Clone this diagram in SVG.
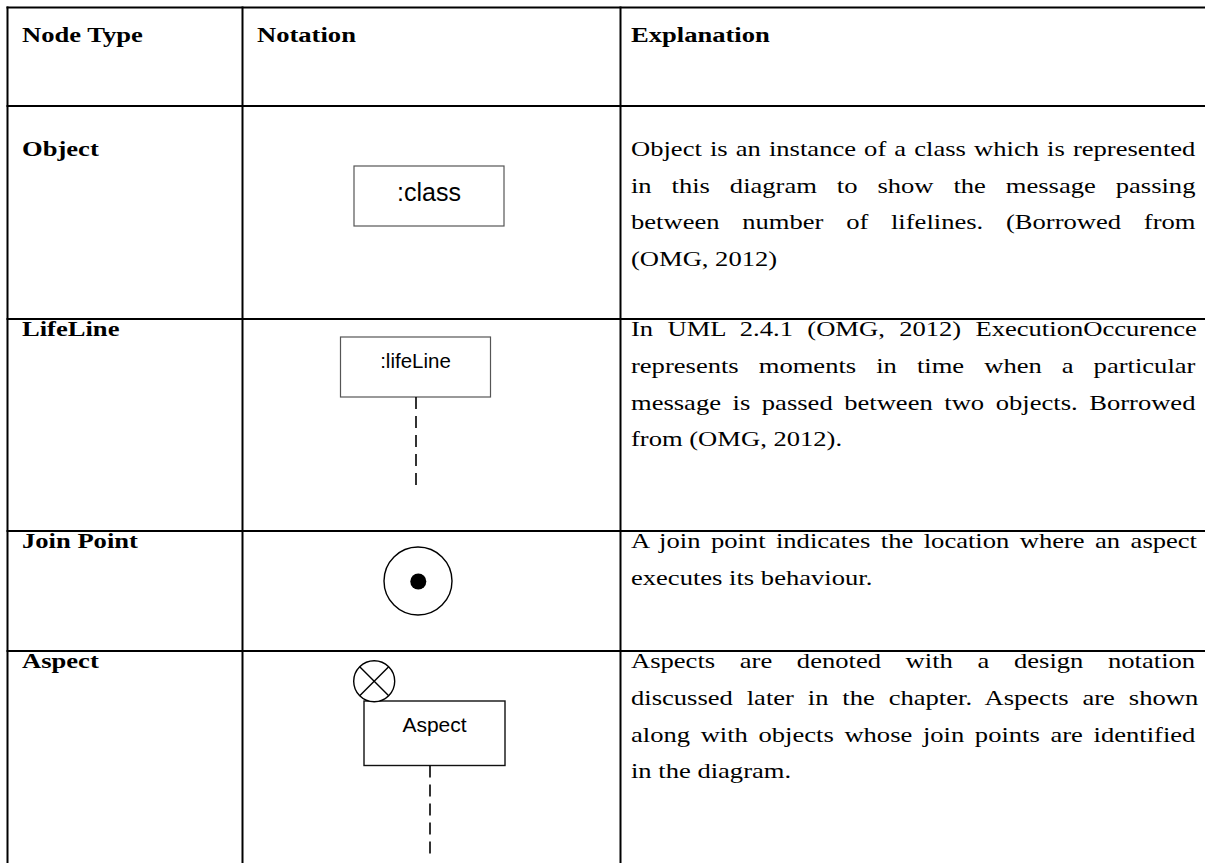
<svg xmlns="http://www.w3.org/2000/svg" width="1205" height="863" viewBox="0 0 1205 863">
  <style>
    .grid { stroke: #000; stroke-width: 2; fill: none; }
    /* serif text is set wide: 21.8px glyphs stretched 1.22x horizontally; x values are in the stretched space */
    .hd { font-family: "Liberation Serif", "Times New Roman", serif; font-weight: bold; font-size: 21.8px; fill: #000; transform: scale(1.22, 1); transform-origin: 0 0; }
    .tx { font-family: "Liberation Serif", "Times New Roman", serif; font-size: 21.8px; fill: #000; transform: scale(1.22, 1); transform-origin: 0 0; }
    .lbl { font-family: "Liberation Sans", Arial, sans-serif; fill: #000; text-anchor: middle; }
    .box { fill: #fff; stroke: #555; stroke-width: 1.2; }
    .box2 { fill: #fff; stroke: #111; stroke-width: 1.4; }
    .life { stroke: #000; stroke-width: 1.6; stroke-dasharray: 12 7; fill: none; }
    .ring { fill: #fff; stroke: #000; stroke-width: 1.4; }
  </style>
  <rect width="1205" height="863" fill="#fff"/>

  <!-- table rules -->
  <g id="table-grid" class="grid">
    <line x1="6.5" y1="7.5" x2="1205" y2="7.5"/>
    <line x1="6.5" y1="106" x2="1205" y2="106"/>
    <line x1="6.5" y1="319" x2="1205" y2="319"/>
    <line x1="6.5" y1="531" x2="1205" y2="531"/>
    <line x1="6.5" y1="651" x2="1205" y2="651"/>
    <line x1="7.5" y1="6.5" x2="7.5" y2="863"/>
    <line x1="242.5" y1="6.5" x2="242.5" y2="863"/>
    <line x1="620.5" y1="6.5" x2="620.5" y2="863"/>
  </g>

  <!-- connectors: none in this table -->
  <g id="connectors"></g>

  <!-- header row -->
  <g id="header">
    <text class="hd" x="18.03" y="42">Node Type</text>
    <text class="hd" x="210.66" y="42">Notation</text>
    <text class="hd" x="517.2" y="42">Explanation</text>
  </g>

  <!-- Object row -->
  <g id="row-object">
    <text class="hd" x="18.03" y="156">Object</text>
    <g id="node-class">
      <rect class="box" x="354" y="166" width="150" height="60"/>
      <text class="lbl" x="429" y="201" font-size="25">:class</text>
    </g>
    <text class="tx" x="517.2" y="156" word-spacing="1.2">Object is an instance of a class which is represented</text>
    <text class="tx" x="517.2" y="192.6" word-spacing="10.87">in this diagram to show the message passing</text>
    <text class="tx" x="517.2" y="229.2" word-spacing="13.18">between number of lifelines. (Borrowed from</text>
    <text class="tx" x="517.2" y="265.8">(OMG, 2012)</text>
  </g>

  <!-- LifeLine row -->
  <g id="row-lifeline">
    <text class="hd" x="18.03" y="336.5">LifeLine</text>
    <g id="node-lifeline">
      <rect class="box" x="340.5" y="337" width="150" height="60"/>
      <text class="lbl" x="415.5" y="367.5" font-size="20.5">:lifeLine</text>
      <line class="life" x1="416" y1="397" x2="416" y2="487"/>
    </g>
    <text class="tx" x="517.2" y="336.5" word-spacing="6.3">In UML 2.4.1 (OMG, 2012) ExecutionOccurence</text>
    <text class="tx" x="517.2" y="373.1" word-spacing="10.98">represents moments in time when a particular</text>
    <text class="tx" x="517.2" y="409.7" word-spacing="4.02">message is passed between two objects. Borrowed</text>
    <text class="tx" x="517.2" y="446.3">from (OMG, 2012).</text>
  </g>

  <!-- Join Point row -->
  <g id="row-joinpoint">
    <text class="hd" x="18.03" y="548.5">Join Point</text>
    <g id="node-joinpoint">
      <circle class="ring" cx="418" cy="581" r="34"/>
      <circle cx="418.3" cy="581.5" r="8" fill="#000"/>
    </g>
    <text class="tx" x="517.2" y="548.5" word-spacing="3.1">A join point indicates the location where an aspect</text>
    <text class="tx" x="517.2" y="585.1">executes its behaviour.</text>
  </g>

  <!-- Aspect row -->
  <g id="row-aspect">
    <text class="hd" x="18.03" y="668.5">Aspect</text>
    <g id="node-aspect">
      <rect class="box2" x="364" y="701" width="141" height="64.5"/>
      <text class="lbl" x="434.5" y="731.7" font-size="21">Aspect</text>
      <line class="life" x1="430" y1="765.5" x2="430" y2="856"/>
      <circle class="ring" cx="374.2" cy="681.2" r="20.5"/>
      <line x1="359.7" y1="666.7" x2="388.7" y2="695.7" stroke="#000" stroke-width="1.4"/>
      <line x1="388.7" y1="666.7" x2="359.7" y2="695.7" stroke="#000" stroke-width="1.4"/>
    </g>
    <text class="tx" x="517.2" y="668.5" word-spacing="14.76">Aspects are denoted with a design notation</text>
    <text class="tx" x="517.2" y="705.1" word-spacing="5.93">discussed later in the chapter. Aspects are shown</text>
    <text class="tx" x="517.2" y="741.7" word-spacing="3.26">along with objects whose join points are identified</text>
    <text class="tx" x="517.2" y="778.3">in the diagram.</text>
  </g>
</svg>
